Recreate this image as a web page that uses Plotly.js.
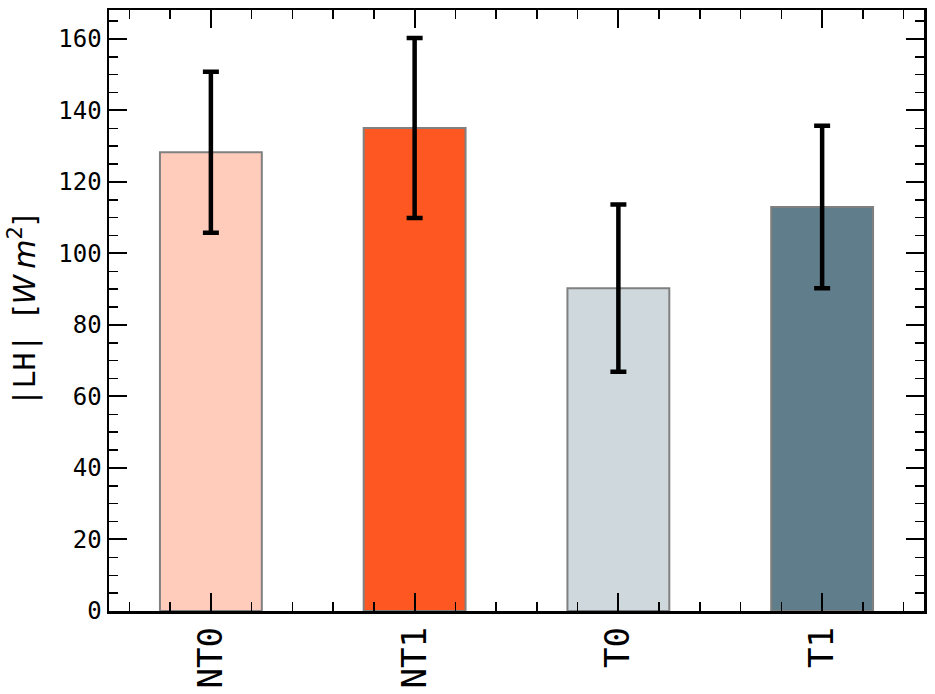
<!DOCTYPE html>
<html>
<head>
<meta charset="utf-8">
<script src="https://cdn.plot.ly/plotly-3.0.1.min.js"></script>
<style>html,body{margin:0;padding:0;background:#fff;}#chart{width:935px;height:694px;}</style>
</head>
<body>
<div id="chart"></div>
<script>
const categories = ["NT0", "NT1", "T0", "T1"];
const values = [128.3, 135.1, 90.3, 113.0];
const errors = [22.5, 25.2, 23.4, 22.7];
const barColors = ["#FFCCBC", "#FF5722", "#CFD8DC", "#607D8B"];
const yTickVals = [0, 20, 40, 60, 80, 100, 120, 140, 160];

const xIdx = categories.map((c, i) => i);

const trace = {
  type: "bar",
  x: xIdx,
  y: values,
  width: 0.5,
  marker: { color: barColors, line: { color: "#808080", width: 2 } },
  error_y: { type: "data", array: errors, visible: true, color: "#000", thickness: 4.5, width: 8 },
  hoverinfo: "none"
};

const mono = "DejaVu Sans Mono, monospace";
const layout = {
  width: 935, height: 694,
  margin: { l: 109, r: 11, t: 10, b: 83 },
  paper_bgcolor: "#fff", plot_bgcolor: "#fff",
  showlegend: false,
  xaxis: {
    range: [-0.5, 3.5],
    tickvals: xIdx, ticktext: categories,
    tickangle: -90,
    layer: "above traces",
    ticks: "inside", ticklen: 18, tickwidth: 2, tickcolor: "#000",
    showline: true, linecolor: "#000", linewidth: 2.5, mirror: "allticks",
    showgrid: false, zeroline: false,
    tickfont: { family: mono, size: 34, color: "#000" },
    minor: { dtick: 0.2, tick0: 0, ticks: "inside", ticklen: 9, tickwidth: 1.5, tickcolor: "#000", showgrid: false }
  },
  yaxis: {
    range: [0, 168.1],
    tickvals: yTickVals,
    layer: "above traces",
    ticks: "inside", ticklen: 18, tickwidth: 2, tickcolor: "#000",
    showline: true, linecolor: "#000", linewidth: 2.5, mirror: "allticks",
    showgrid: false, zeroline: false,
    tickfont: { family: mono, size: 24, color: "#000" },
    minor: { dtick: 5, tick0: 0, ticks: "inside", ticklen: 9, tickwidth: 1.5, tickcolor: "#000", showgrid: false },
    title: {
      text: "|LH| <span style=\"font-family:DejaVu Sans\">[<i>W</i>\u2009<i>m</i><sup>2</sup>]</span>",
      font: { family: mono, size: 30, color: "#000" },
      standoff: 14
    }
  }
};

Plotly.newPlot("chart", [trace], layout, { staticPlot: true, displayModeBar: false });
</script>
</body>
</html>
